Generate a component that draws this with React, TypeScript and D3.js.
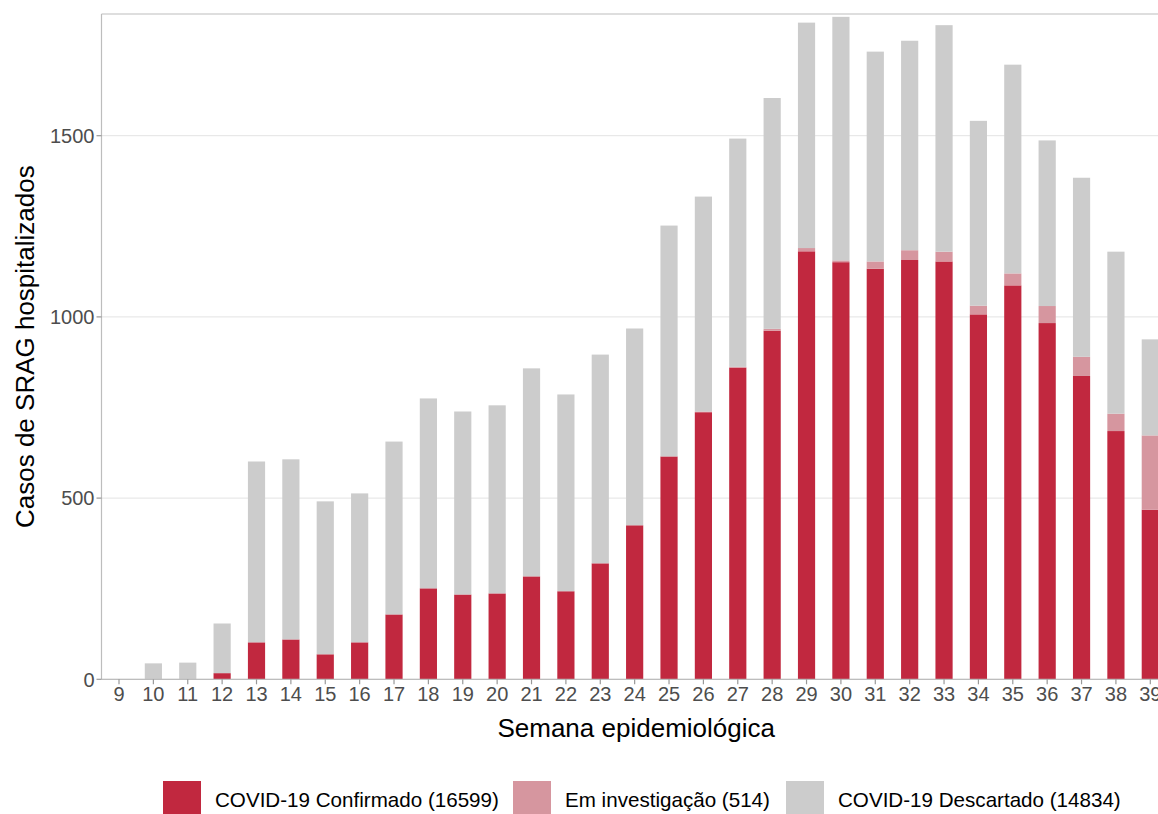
import * as d3 from "d3";

// semanas epidemiologicas e contagens por semana
const weeks = [9, 10, 11, 12, 13, 14, 15, 16, 17, 18, 19, 20, 21, 22, 23, 24, 25, 26, 27, 28, 29, 30, 31, 32, 33, 34, 35, 36, 37, 38, 39];
const confirmado = [0, 0, 0, 17, 102, 110, 69, 102, 179, 251, 234, 237, 284, 243, 320, 425, 615, 737, 860, 962, 1181, 1151, 1133, 1157, 1153, 1007, 1087, 983, 837, 685, 468];
const investigacao = [0, 0, 0, 0, 0, 0, 0, 0, 0, 0, 0, 0, 0, 0, 0, 0, 0, 2, 2, 5, 9, 5, 20, 27, 27, 24, 33, 47, 53, 48, 205];
const descartado = [0, 44, 46, 137, 499, 497, 422, 411, 477, 524, 505, 519, 574, 543, 576, 543, 637, 593, 630, 637, 622, 672, 579, 578, 625, 510, 576, 457, 494, 447, 265];
const yTicks = [0, 500, 1000, 1500];

const series = [
  { key: "confirmado", label: "COVID-19 Confirmado (16599)", color: "#c1283f" },
  { key: "investigacao", label: "Em investigação (514)", color: "#d6969f" },
  { key: "descartado", label: "COVID-19 Descartado (14834)", color: "#cccccc" },
];
const legendX = [163, 513, 786];

const W = 1158;
const H = 814;
const panelLeft = 101.5;
const panelTop = 14;
const font = "'Liberation Sans', Arial, Helvetica, sans-serif";

export default function App() {
  const rows = weeks.map((w, i) => ({
    week: w,
    confirmado: confirmado[i],
    investigacao: investigacao[i],
    descartado: descartado[i],
  }));
  const stacked = d3.stack<any>().keys(series.map((s) => s.key))(rows);

  const x = d3.scalePoint<number>().domain(weeks).range([119, 1150.3]);
  const barW = x.step() * 0.5;
  const y = d3.scaleLinear().domain([0, 1500]).range([679.3, 135.7]);
  const panelRight = x(39)! + x.step() * 0.6;

  return (
    <svg width={W} height={H} style={{ position: "absolute", left: 0, top: 0, background: "#fff" }}>
      {/* grid */}
      {yTicks.map((t) => (
        <line key={t} x1={panelLeft} x2={panelRight} y1={y(t)} y2={y(t)} stroke="#e3e3e3" strokeWidth={1} />
      ))}
      {/* bars */}
      {stacked.map((layer, si) => (
        <g key={layer.key} fill={series[si].color}>
          {layer.map((d, i) =>
            d[1] - d[0] > 0 ? (
              <rect
                key={i}
                x={x(weeks[i])! - barW / 2}
                y={y(d[1])}
                width={barW}
                height={y(d[0]) - y(d[1])}
              />
            ) : null
          )}
        </g>
      ))}
      {/* panel border */}
      <line x1={panelLeft} x2={panelRight} y1={panelTop} y2={panelTop} stroke="#bdbdbd" strokeWidth={1.2} />
      <line x1={panelLeft} x2={panelLeft} y1={panelTop} y2={y(0)} stroke="#bdbdbd" strokeWidth={1.2} />
      <line x1={panelLeft} x2={panelRight} y1={y(0)} y2={y(0)} stroke="#bdbdbd" strokeWidth={1.2} />
      {/* y axis */}
      {yTicks.map((t) => (
        <g key={t}>
          <line x1={panelLeft - 5} x2={panelLeft} y1={y(t)} y2={y(t)} stroke="#999" strokeWidth={1.2} />
          <text x={panelLeft - 7} y={y(t)} dy="0.36em" textAnchor="end" fontSize={20} fill="#4d4d4d" fontFamily={font}>
            {t}
          </text>
        </g>
      ))}
      {/* x axis */}
      {weeks.map((w) => (
        <g key={w}>
          <line x1={x(w)} x2={x(w)} y1={y(0)} y2={y(0) + 5} stroke="#999" strokeWidth={1.2} />
          <text x={x(w)} y={701} textAnchor="middle" fontSize={20} fill="#4d4d4d" fontFamily={font}>
            {w}
          </text>
        </g>
      ))}
      <text x={(panelLeft + panelRight) / 2} y={737} textAnchor="middle" fontSize={26} fill="#000" fontFamily={font}>
        Semana epidemiológica
      </text>
      <text
        transform={`translate(34, ${(panelTop + y(0)) / 2}) rotate(-90)`}
        textAnchor="middle"
        fontSize={26}
        fill="#000"
        fontFamily={font}
      >
        Casos de SRAG hospitalizados
      </text>
      {/* legend */}
      {series.map((s, i) => (
        <g key={s.key} transform={`translate(${legendX[i]}, 781)`}>
          <rect width={38} height={38} fill={s.color} />
          <text x={52} y={26} fontSize={20.6} fill="#000" fontFamily={font}>
            {s.label}
          </text>
        </g>
      ))}
    </svg>
  );
}
